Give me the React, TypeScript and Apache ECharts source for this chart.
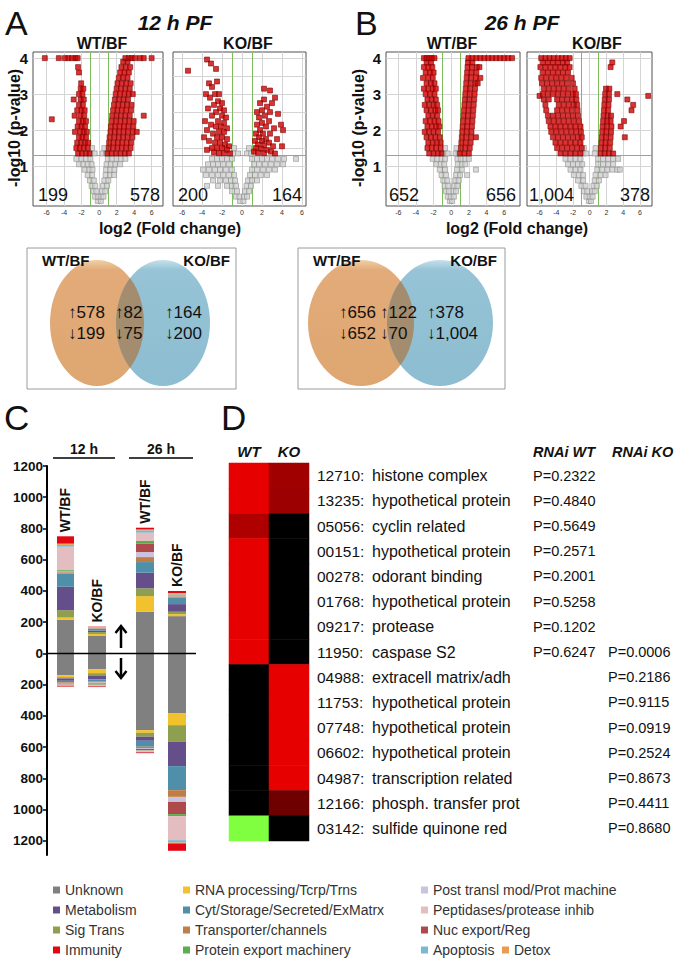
import React, { useEffect, useRef } from 'react';
import * as echarts from 'echarts';

type Row = [number, number[]];

// ===================== Panel A / B : volcano plots =====================
// rows: [ -log10(p), [log2 fold change values ...] ]
const wt12RedRows: Row[] = [
  [1.35, [0.95, 1.45, 1.95, 2.45, 2.95, 3.4]],
  [1.5, [1.1, 1.6, 2.1, 2.6, 3.1, 3.6]],
  [1.65, [1.15, 1.65, 2.15, 2.65, 3.15, 3.65]],
  [1.8, [1.2, 1.75, 2.25, 2.75, 3.25, 3.8]],
  [1.95, [1.3, 1.8, 2.3, 2.8, 3.3, 3.85, 4.3]],
  [2.1, [1.35, 1.85, 2.35, 2.85, 3.35, 3.9]],
  [2.25, [1.45, 1.95, 2.45, 2.95, 3.45, 3.95]],
  [2.4, [1.5, 2.0, 2.5, 3.0, 3.5, 5.1]],
  [2.55, [1.6, 2.1, 2.6, 3.1, 3.65]],
  [2.7, [1.7, 2.2, 2.7, 3.2, 3.7]],
  [2.85, [1.8, 2.3, 2.8, 3.3]],
  [3.0, [1.9, 2.4, 2.9, 3.4, 3.85]],
  [3.15, [2.0, 2.5, 3.0, 3.5]],
  [3.3, [2.1, 2.6, 3.1, 3.6]],
  [3.45, [2.25, 2.75, 3.25]],
  [3.6, [2.4, 2.9, 3.4]],
  [3.75, [2.55, 3.05, 3.55]],
  [3.9, [2.75, 3.25]],
  [4.0, [3.0, 3.4, 3.7, 4.1, 4.7, 5.1, 6.0]],
  [1.35, [-2.4, -1.95, -1.5, -1.1]],
  [1.5, [-2.6, -2.2, -1.75, -1.3]],
  [1.65, [-2.5, -2.05, -1.6, -1.25]],
  [1.8, [-2.3, -1.9, -1.5]],
  [1.95, [-2.75, -2.15, -1.75, -1.4]],
  [2.1, [-2.45, -2.0, -1.6]],
  [2.25, [-2.3, -1.85, -1.5]],
  [2.3, [-5.4]],
  [2.4, [-2.8, -2.15, -1.7]],
  [2.55, [-2.5, -2.0, -1.65]],
  [2.7, [-2.3, -1.85]],
  [2.85, [-2.9, -2.1, -1.75]],
  [3.0, [-2.3, -1.9]],
  [3.15, [-2.1, -1.8]],
  [3.3, [-2.05]],
  [3.6, [-2.3]],
  [3.75, [-2.4]],
  [4.0, [-6.2, -4.6, -3.9, -3.5, -3.1, -2.7, -2.45]],
];
const wt12GrayRows: Row[] = [
  [0.03, [-0.15, 0.2]],
  [0.15, [-0.45, -0.1, 0.25, 0.5]],
  [0.3, [-0.65, -0.3, 0.35, 0.7]],
  [0.45, [-0.85, -0.45, 0.45, 0.9]],
  [0.6, [-1.05, -0.6, 0.6, 1.05]],
  [0.75, [-1.3, -0.8, 0.75, 1.25, 1.7]],
  [0.9, [-1.65, -1.1, -0.75, 0.8, 1.25, 1.75]],
  [1.05, [-2.3, -1.8, -1.3, -0.85, 0.85, 1.35, 1.85, 2.4]],
  [1.2, [-2.6, -2.0, -1.5, -1.0, 1.0, 1.5, 2.0, 2.5, 3.0]],
  [1.35, [-0.95, -0.5, 0.4, 0.8]],
  [1.5, [-0.8, 0.6]],
];
// scattered points as flat [x, y, x, y, ...]
const ko12RedPts: number[] = [
  -5.4, 3.65, -3.5, 3.96, -3.1, 3.85, -2.6, 3.7, -3.3, 3.3, -3.0, 3.2, -2.5, 3.35, -3.6, 3.0,
  -3.2, 2.9, -2.7, 3.0, -2.3, 3.0, -2.4, 2.8, -2.0, 2.75, -2.8, 2.7, -3.4, 2.6, -2.2, 2.6,
  -1.8, 2.55, -2.6, 2.5, -3.0, 2.4, -2.0, 2.4, -1.6, 2.35, -3.7, 2.25, -2.4, 2.25, -1.8, 2.2,
  -3.1, 2.15, -2.6, 2.1, -2.1, 2.1, -1.5, 2.05, -3.5, 2.0, -2.3, 1.95, -1.8, 1.95, -2.9, 1.9,
  -3.8, 1.8, -2.5, 1.8, -2.0, 1.8, -1.5, 1.75, -3.3, 1.7, -2.7, 1.65, -2.2, 1.65, -1.7, 1.6,
  -1.3, 1.55, -3.0, 1.5, -2.5, 1.5, -2.0, 1.5, -1.5, 1.45, -2.8, 1.38, -2.3, 1.36, -1.8, 1.36,
  -1.2, 1.35, -3.5, 1.45,
  2.2, 3.15, 2.8, 3.1, 3.3, 2.9, 3.0, 2.75, 2.2, 2.85, 1.8, 2.75, 2.5, 2.65, 2.0, 2.55,
  1.5, 2.5, 2.8, 2.5, 3.6, 2.45, 2.3, 2.4, 1.7, 2.35, 2.0, 2.2, 2.7, 2.25, 3.9, 2.15,
  1.5, 2.15, 2.4, 2.1, 3.2, 2.05, 1.8, 2.0, 4.1, 2.0, 2.1, 1.9, 2.8, 1.9, 1.4, 1.9,
  1.7, 1.8, 2.4, 1.75, 3.5, 1.75, 2.0, 1.7, 1.3, 1.7, 2.7, 1.65, 1.6, 1.6, 2.2, 1.58,
  3.1, 1.55, 1.4, 1.5, 1.9, 1.48, 2.5, 1.45, 2.9, 1.4, 1.2, 1.4, 1.6, 1.37, 2.2, 1.36,
  3.3, 1.35, 4.0, 1.55,
];
const ko12GrayRows: Row[] = [
  [0.03, [-0.2, 0.15]],
  [0.15, [-0.6, -0.25, 0.2, 0.5]],
  [0.3, [-1.0, -0.5, 0.3, 0.7]],
  [0.45, [-3.5, -2.4, -1.5, -1.0, -0.6, 0.45, 0.9]],
  [0.6, [-2.9, -2.2, -1.6, -1.1, -0.7, 0.6, 1.0, 1.5]],
  [0.75, [-3.6, -3.0, -2.4, -1.9, -1.3, -0.8, 0.8, 1.3, 1.9, 2.5]],
  [0.9, [-3.9, -3.3, -2.7, -2.2, -1.6, -1.0, 1.0, 1.5, 2.1, 2.7, 3.3]],
  [1.05, [-3.4, -2.9, -2.4, -1.9, -1.3, 1.2, 1.7, 2.3, 2.9, 3.5, 4.1]],
  [1.2, [-3.0, -2.5, -2.0, -1.5, -1.0, 1.0, 1.5, 2.0, 2.5, 3.0, 3.6, 4.2, 5.4]],
  [1.35, [-0.9, -0.4, 0.5, 0.9]],
  [1.5, [-0.8, 0.7]],
];
const wt26RedRows: Row[] = [
  [1.35, [-2.5, -2.0, -1.5, -1.1, 1.0, 1.5, 2.0]],
  [1.5, [-2.7, -2.2, -1.7, -1.2, 1.1, 1.6, 2.1]],
  [1.65, [-2.6, -2.1, -1.6, -1.2, 1.15, 1.65, 2.2]],
  [1.8, [-2.8, -2.3, -1.8, -1.3, 1.2, 1.7, 2.25, 2.8]],
  [1.95, [-3.0, -2.5, -2.0, -1.5, 1.25, 1.75, 2.3]],
  [2.1, [-2.7, -2.2, -1.7, -1.35, 1.3, 1.8, 2.35]],
  [2.25, [-2.9, -2.4, -1.9, -1.45, 1.35, 1.85, 2.4]],
  [2.4, [-2.6, -2.1, -1.6, 1.4, 1.9, 2.45]],
  [2.55, [-2.8, -2.3, -1.8, -1.5, 1.45, 1.95, 2.5]],
  [2.7, [-3.0, -2.5, -2.0, -1.6, 1.5, 2.0, 2.55]],
  [2.85, [-2.7, -2.2, -1.75, 1.55, 2.05, 2.6]],
  [3.0, [-2.9, -2.4, -1.9, 1.6, 2.1, 2.65]],
  [3.15, [-3.1, -2.6, -2.1, -1.75, 1.65, 2.15, 2.7]],
  [3.3, [-2.8, -2.3, -1.9, 1.7, 2.2, 2.75, 3.0]],
  [3.45, [-3.2, -2.6, -2.1, 1.75, 2.25, 2.8, 3.3]],
  [3.6, [-2.9, -2.4, -2.0, 1.8, 2.3, 2.85]],
  [3.75, [-3.1, -2.6, -2.15, 1.85, 2.35, 2.9, 3.2]],
  [3.88, [-2.8, -2.3, 1.9, 2.4]],
  [4.0, [-3.1, -2.8, -2.5, -2.2, -1.9, 1.95, 2.4, 2.85, 3.3, 3.75, 4.2, 4.65, 5.1, 5.55, 6.0, 6.45, 6.9]],
];
const wt26GrayRows: Row[] = [
  [0.03, [-0.15, 0.1]],
  [0.15, [-0.4, -0.05, 0.3]],
  [0.3, [-0.6, -0.25, 0.25, 0.55]],
  [0.45, [-0.75, -0.35, 0.35, 0.7]],
  [0.6, [-0.9, -0.45, 0.45, 0.85]],
  [0.75, [-1.1, -0.6, 0.55, 1.0, 1.8]],
  [0.9, [-1.3, -0.7, 0.65, 1.2, 2.8]],
  [1.05, [-1.7, -1.2, -0.8, 0.75, 1.2, 1.6]],
  [1.2, [-2.1, -1.6, -1.1, -0.7, 0.7, 1.1, 1.6, 2.0]],
  [1.35, [-0.8, -0.4, 0.5, 0.85]],
  [1.5, [-0.7, 0.6]],
];
const ko26RedRows: Row[] = [
  [1.35, [-3.5, -2.9, -2.3, -1.7, -1.1, 1.3, 1.8, 2.3, 2.8]],
  [1.5, [-3.9, -3.3, -2.7, -2.1, -1.5, -0.95, 1.35, 1.85, 2.4]],
  [1.65, [-4.1, -3.5, -2.9, -2.3, -1.7, -1.1, 1.4, 1.9, 2.45]],
  [1.8, [-4.4, -3.8, -3.2, -2.6, -2.0, -1.4, -0.95, 1.45, 1.95, 2.5, 4.2]],
  [1.95, [-4.6, -4.0, -3.4, -2.8, -2.2, -1.6, -1.05, 1.5, 2.0, 2.55]],
  [2.1, [-4.7, -4.1, -3.5, -2.9, -2.3, -1.7, -1.1, 1.55, 2.05, 2.6, 3.7]],
  [2.25, [-4.9, -4.3, -3.7, -3.1, -2.5, -1.9, -1.3, 1.6, 2.1, 2.5, 4.1]],
  [2.4, [-5.0, -4.4, -3.8, -3.2, -2.6, -2.0, -1.4, 1.65, 2.15, 2.55]],
  [2.55, [-5.2, -3.9, -3.3, -2.7, -2.1, -1.45, 1.7, 2.2, 5.0]],
  [2.7, [-5.3, -3.7, -3.1, -2.5, -1.9, -1.5, 1.75, 2.25, 5.2]],
  [2.85, [-5.5, -4.9, -3.9, -3.3, -2.7, -2.1, -1.6, 1.8, 2.3, 4.5]],
  [2.95, [-6.0, 7.0]],
  [3.0, [-5.6, -5.0, -4.4, -3.8, -3.2, -2.6, -2.0, -1.65, 1.85, 2.3, 3.3]],
  [3.15, [-5.5, -4.9, -4.3, -3.7, -3.1, -2.5, -1.8, 1.95, 2.35]],
  [3.3, [-5.7, -5.1, -4.5, -3.9, -3.3, -2.7, -2.0]],
  [3.45, [-5.8, -5.2, -4.6, -4.0, -3.4, -2.8, -2.15]],
  [3.6, [-5.6, -5.0, -4.4, -3.8, -3.2, -2.6]],
  [3.75, [-5.9, -5.3, -4.7, -4.1, -3.5, -2.9, -2.4, 2.5]],
  [3.88, [-5.6, -5.0, -4.4, -3.8, -3.2, -2.7, 2.7]],
  [4.0, [-5.8, -5.3, -4.8, -4.3, -3.8, -3.3, -2.85, -2.4]],
];
const ko26GrayRows: Row[] = [
  [0.03, [-0.1, 0.15]],
  [0.15, [-0.4, 0.0, 0.35]],
  [0.3, [-0.7, -0.3, 0.3, 0.6]],
  [0.45, [-1.0, -0.5, 0.45, 0.85]],
  [0.6, [-1.4, -0.8, 0.6, 1.1]],
  [0.75, [-1.9, -1.3, -0.8, 0.7, 1.3, 1.9]],
  [0.9, [-2.3, -1.7, -1.1, 0.9, 1.5, 2.1, 2.7, 3.3, 3.6]],
  [1.05, [-2.6, -2.0, -1.4, -0.9, 1.0, 1.6, 2.2, 2.8]],
  [1.2, [-2.9, -2.3, -1.7, -1.1, 1.0, 1.6, 2.2, 2.8, 3.4]],
  [1.35, [-0.8, -0.4, 0.6]],
  [1.5, [-0.7, 0.7]],
];
const volcanoTitles = ['WT/BF', 'KO/BF', 'WT/BF', 'KO/BF'];
const volcanoCountsDown = [199, 200, 652, 1004];
const volcanoCountsUp = [578, 164, 656, 378];
const xTickValues = [-6, -4, -2, 0, 2, 4, 6];
const yTickValues = [1, 2, 3, 4];

// ===================== Venn diagrams =====================
const vennUp = [[578, 82, 164], [656, 122, 378]];
const vennDown = [[199, 75, 200], [652, 70, 1004]];

// ===================== Panel C : functional categories =====================
const funcCats = [
  'Unknown', 'RNA processing/Tcrp/Trns', 'Sig Trans', 'Metabolism', 'Cyt/Storage/Secreted/ExMatrx',
  'Transporter/channels', 'Post transl mod/Prot machine', 'Nuc export/Reg', 'Protein export machinery',
  'Peptidases/protease inhib', 'Apoptosis', 'Detox', 'Immunity',
];
const funcColors = [
  '#808080', '#F2C12E', '#8E9F4F', '#654F8A', '#4F8FA9', '#C07D45', '#CBC3DD', '#AE4A4C',
  '#5BAE4E', '#E4BDC1', '#7DB7D4', '#E99B4E', '#E30613',
];
const barNames = ['12 h WT/BF', '12 h KO/BF', '26 h WT/BF', '26 h KO/BF'];
const barLabels = ['WT/BF', 'KO/BF', 'WT/BF', 'KO/BF'];
// genes up (positive) per category, one array per bar
const upWT12 = [215, 15, 47, 150, 85, 8, 6, 3, 5, 149, 12, 8, 47];
const upKO12 = [115, 10, 12, 10, 12, 3, 2, 2, 2, 2, 0, 0, 2];
const upWT26 = [267, 100, 50, 100, 68, 32, 32, 53, 18, 53, 15, 6, 11];
const upKO26 = [239, 13, 15, 49, 42, 8, 6, 4, 3, 5, 0, 2, 14];
// genes down per category
const downWT12 = [140, 12, 8, 15, 10, 5, 3, 5, 2, 5, 2, 0, 5];
const downKO12 = [102, 24, 18, 22, 12, 8, 6, 6, 3, 8, 2, 0, 4];
const downWT26 = [491, 17, 25, 26, 38, 8, 6, 8, 3, 8, 3, 0, 5];
const downKO26 = [384, 75, 107, 155, 154, 43, 32, 78, 13, 154, 15, 6, 47];
const barAxisTicks = [-1200, -1000, -800, -600, -400, -200, 0, 200, 400, 600, 800, 1000, 1200];

// ===================== Panel D : heat map =====================
const geneIds = ['12710', '13235', '05056', '00151', '00278', '01768', '09217', '11950', '04988', '11753', '07748', '06602', '04987', '12166', '03142'];
const geneNames = [
  'histone complex', 'hypothetical protein', 'cyclin related', 'hypothetical protein', 'odorant binding',
  'hypothetical protein', 'protease', 'caspase S2', 'extracell matrix/adh', 'hypothetical protein',
  'hypothetical protein', 'hypothetical protein', 'transcription related', 'phosph. transfer prot', 'sulfide quinone red',
];
const heatWT = [1, 1, 0.76, 1, 1, 1, 1, 1, 0, 0, 0, 0, 0, 0, -1];
const heatKO = [0.7, 0.68, 0, 0, 0, 0, 0, 0, 1, 1, 1, 1, 1, 0.48, 0];
const pRnaiWT: (number | null)[] = [0.2322, 0.484, 0.5649, 0.2571, 0.2001, 0.5258, 0.1202, 0.6247, null, null, null, null, null, null, null];
const pRnaiKO: (number | null)[] = [null, null, null, null, null, null, null, 0.0006, 0.2186, 0.9115, 0.0919, 0.2524, 0.8673, 0.4411, 0.868];

// ===================== helpers / layout =====================
const FONT = "'Liberation Sans', Arial, Helvetica, sans-serif";
const NARROW = "'Liberation Sans Narrow', 'Arial Narrow', 'Liberation Sans', Arial, sans-serif";

const rowsToPts = (rows: Row[]) => rows.flatMap(([y, xs]) => xs.map((x) => [x, y]));
const flatToPts = (a: number[]) => {
  const out: number[][] = [];
  for (let i = 0; i < a.length; i += 2) out.push([a[i], a[i + 1]]);
  return out;
};

const volcRed = [rowsToPts(wt12RedRows), flatToPts(ko12RedPts), rowsToPts(wt26RedRows), rowsToPts(ko26RedRows)];
const volcGray = [rowsToPts(wt12GrayRows), rowsToPts(ko12GrayRows), rowsToPts(wt26GrayRows), rowsToPts(ko26GrayRows)];

const volcLayout = [
  { left: 33, width: 130, xMin: -7.55, xMax: 7.3, yLabels: true, hLines: [1, 2, 3, 4], titleX: 102, cL: 38, cR: 160 },
  { left: 173, width: 133, xMin: -6.9, xMax: 6.4, yLabels: false, hLines: [1, 1.5, 2, 2.5, 3, 3.5, 4], titleX: 248, cL: 178, cR: 302 },
  { left: 386, width: 134, xMin: -7.4, xMax: 7.8, yLabels: true, hLines: [1, 2, 3, 4], titleX: 452, cL: 389, cR: 516 },
  { left: 527, width: 125, xMin: -7.5, xMax: 7.45, yLabels: false, hLines: [1, 2, 3, 4], titleX: 597, cL: 529, cR: 650 },
];
const VTOP = 52;
const VH = 154;
const BAR_SLOTS = [0, 2, 5, 7];

function txt(text: string, x: number, y: number, o: any = {}) {
  const align = o.align || 'left';
  const valign = o.valign || 'middle';
  return {
    type: 'text',
    x,
    y,
    rotation: o.rotation || 0,
    silent: true,
    z: 100,
    style: {
      text,
      fill: o.color || '#111',
      fontSize: o.size || 14,
      fontWeight: o.weight || 'normal',
      fontStyle: o.fstyle || 'normal',
      fontFamily: o.family || FONT,
      align,
      verticalAlign: valign,
      textAlign: align,
      textVerticalAlign: valign,
    },
  };
}

let shapesRegistered = false;
function registerShapes() {
  if (shapesRegistered) return;
  shapesRegistered = true;
  echarts.graphic.registerShape(
    'vennLensA',
    echarts.graphic.extendPath('M 0 -44.9 A 47 63 0 0 1 0 44.9 A 47 63 0 0 1 0 -44.9 Z', {})
  );
  echarts.graphic.registerShape(
    'vennLensB',
    echarts.graphic.extendPath('M 0 -42 A 53 63 0 0 1 0 42 A 53 63 0 0 1 0 -42 Z', {})
  );
}

function buildOption() {
  const grids: any[] = [];
  const xAxes: any[] = [];
  const yAxes: any[] = [];
  const series: any[] = [];

  volcLayout.forEach((L, i) => {
    grids.push({ left: L.left, top: VTOP, width: L.width, height: VH, show: true, borderColor: '#505050', borderWidth: 1, backgroundColor: 'transparent' });
    xAxes.push({
      type: 'value', gridIndex: i, min: L.xMin, max: L.xMax,
      axisLine: { show: false }, axisTick: { show: false }, splitLine: { show: false },
      axisLabel: { customValues: xTickValues, fontSize: 7, color: '#333', margin: 3, fontFamily: FONT },
    });
    yAxes.push({
      type: 'value', gridIndex: i, min: -0.11, max: 4.17,
      axisLine: { show: false }, splitLine: { show: false },
      axisTick: { show: true, customValues: yTickValues, length: 3, inside: !L.yLabels, lineStyle: { color: '#333' } },
      axisLabel: { show: L.yLabels, customValues: yTickValues, fontSize: 15, fontWeight: 'bold', color: '#111', margin: 5, fontFamily: FONT },
    });
    const gridLine = { color: '#d4d4d4', width: 1, type: 'solid' };
    const green = { color: '#7dbd5c', width: 1, type: 'solid' };
    series.push({
      type: 'scatter', xAxisIndex: i, yAxisIndex: i, data: volcGray[i], symbol: 'rect', symbolSize: 5,
      itemStyle: { color: '#cfcfcf', borderColor: '#8a8a8a', borderWidth: 0.7 }, silent: true, z: 3,
      markLine: {
        silent: true, symbol: ['none', 'none'], z: 1, animation: false, label: { show: false },
        data: [
          ...xTickValues.map((v) => ({ xAxis: v, lineStyle: gridLine })),
          ...L.hLines.map((v) => ({ yAxis: v, lineStyle: gridLine })),
          { xAxis: -1, lineStyle: green },
          { xAxis: 1, lineStyle: green },
          { yAxis: 1.3, lineStyle: green },
        ],
      },
    });
    series.push({
      type: 'scatter', xAxisIndex: i, yAxisIndex: i, data: volcRed[i], symbol: 'rect', symbolSize: 5,
      itemStyle: { color: '#d00000', borderColor: '#780000', borderWidth: 0.7 }, silent: true, z: 4,
    });
  });

  // Panel C grid (index 4)
  grids.push({ left: 57, top: 466, width: 144, height: 389 });
  xAxes.push({
    type: 'category', gridIndex: 4, data: ['WT12', 's1', 'KO12', 's2', 's3', 'WT26', 's4', 'KO26', 's5'],
    show: false,
  });
  yAxes.push({
    type: 'value', gridIndex: 4, min: -1290, max: 1200, offset: 10,
    axisLine: { show: true, lineStyle: { color: '#000', width: 2 } },
    axisTick: { show: true, customValues: barAxisTicks, length: 4, lineStyle: { color: '#000', width: 1.5 } },
    axisLabel: {
      customValues: barAxisTicks, formatter: (v: number) => String(Math.abs(v)),
      fontSize: 13.5, fontWeight: 'bold', color: '#111', margin: 4, fontFamily: FONT,
    },
    splitLine: { show: false },
  });
  const ups = [upWT12, upKO12, upWT26, upKO26];
  const downs = [downWT12, downKO12, downWT26, downKO26];
  funcCats.forEach((cat, c) => {
    const upData: (number | null)[] = new Array(9).fill(null);
    const downData: (number | null)[] = new Array(9).fill(null);
    BAR_SLOTS.forEach((s, b) => {
      upData[s] = ups[b][c] || null;
      downData[s] = downs[b][c] ? -downs[b][c] : null;
    });
    const common = {
      type: 'bar', name: cat, xAxisIndex: 4, yAxisIndex: 4, stack: 'genes', barWidth: 18,
      itemStyle: { color: funcColors[c] }, silent: true,
    };
    series.push({ ...common, data: upData });
    series.push({ ...common, data: downData });
  });

  // Panel D grid (index 5)
  grids.push({ left: 229, top: 463, width: 80, height: 378 });
  xAxes.push({
    type: 'category', gridIndex: 5, data: ['WT', 'KO'], position: 'top',
    axisLine: { show: false }, axisTick: { show: false },
    axisLabel: { fontSize: 15, fontWeight: 'bold', fontStyle: 'italic', color: '#111', margin: 4, fontFamily: FONT },
  });
  yAxes.push({
    type: 'category', gridIndex: 5, data: geneIds, inverse: true, position: 'right',
    axisLine: { show: false }, axisTick: { show: false },
    axisLabel: {
      interval: 0, margin: 8, color: '#111', fontFamily: FONT,
      formatter: (_v: string, idx: number) => {
        const w = pRnaiWT[idx] != null ? 'P=' + (pRnaiWT[idx] as number).toFixed(4) : '\u00a0';
        const k = pRnaiKO[idx] != null ? 'P=' + (pRnaiKO[idx] as number).toFixed(4) : '\u00a0';
        return `{id|${geneIds[idx]}:}{d|${geneNames[idx]}}{w|${w}}{k|${k}}`;
      },
      rich: {
        id: { width: 55, fontSize: 15.5, color: '#111', fontFamily: FONT },
        d: { width: 161, fontSize: 16, color: '#111', fontFamily: FONT },
        w: { width: 75, fontSize: 14.5, color: '#111', fontFamily: FONT },
        k: { fontSize: 14.5, color: '#111', fontFamily: FONT },
      },
    },
  });
  const heatData: number[][] = [];
  geneIds.forEach((_g, r) => {
    heatData.push([0, r, heatWT[r]]);
    heatData.push([1, r, heatKO[r]]);
  });
  const heatIndex = series.length;
  series.push({
    type: 'heatmap', xAxisIndex: 5, yAxisIndex: 5, data: heatData, silent: true,
    itemStyle: { borderWidth: 0 }, emphasis: { disabled: true },
  });

  const legendBase = {
    orient: 'vertical', itemWidth: 7, itemHeight: 7, itemGap: 4, icon: 'rect', selectedMode: false, padding: 0,
    textStyle: { fontSize: 14, color: '#333', lineHeight: 16, fontFamily: FONT },
  };

  return {
    animation: false,
    backgroundColor: '#ffffff',
    textStyle: { fontFamily: FONT },
    grid: grids,
    xAxis: xAxes,
    yAxis: yAxes,
    series,
    visualMap: [{
      type: 'continuous', show: false, seriesIndex: heatIndex, dimension: 2, min: -1, max: 1,
      inRange: { color: ['#80ff40', '#000000', '#e60000'] },
    }],
    legend: [
      { ...legendBase, left: 53, top: 882, data: [funcCats[0], funcCats[3], funcCats[2], funcCats[12]] },
      { ...legendBase, left: 183, top: 882, data: [funcCats[1], funcCats[4], funcCats[5], funcCats[8]] },
      { ...legendBase, left: 421, top: 882, data: [funcCats[6], funcCats[9], funcCats[7], funcCats[10]] },
      { ...legendBase, left: 502, top: 942, data: [funcCats[11]] },
    ],
  };
}

function staticGraphics() {
  const g: any[] = [];
  // panel letters
  g.push(txt('A', 5, 6, { size: 34, valign: 'top' }));
  g.push(txt('B', 355, 6, { size: 34, valign: 'top' }));
  g.push(txt('C', 4, 400, { size: 35, valign: 'top' }));
  g.push(txt('D', 221, 400, { size: 35, valign: 'top' }));
  // volcano titles
  g.push(txt('12 h PF', 175, 22, { size: 21, weight: 'bold', fstyle: 'italic', align: 'center' }));
  g.push(txt('26 h PF', 522, 22, { size: 21, weight: 'bold', fstyle: 'italic', align: 'center' }));
  volcLayout.forEach((L, i) => {
    g.push(txt(volcanoTitles[i], L.titleX, 43, { size: 16, weight: 'bold', align: 'center' }));
    g.push(txt(volcanoCountsDown[i].toLocaleString('en-US'), L.cL, 195, { size: 18, family: NARROW }));
    g.push(txt(volcanoCountsUp[i].toLocaleString('en-US'), L.cR, 195, { size: 18, family: NARROW, align: 'right' }));
  });
  g.push(txt('-log10 (p-value)', 14, 128, { size: 16, weight: 'bold', align: 'center', rotation: Math.PI / 2 }));
  g.push(txt('-log10 (p-value)', 358, 128, { size: 16, weight: 'bold', align: 'center', rotation: Math.PI / 2 }));
  g.push(txt('log2 (Fold change)', 170, 228, { size: 16, weight: 'bold', align: 'center' }));
  g.push(txt('log2 (Fold change)', 517, 228, { size: 16, weight: 'bold', align: 'center' }));

  // Venn diagrams
  const venn = [
    { bx: 27, bw: 209, oc: 97, bc: 163, rx: 47, lens: 'vennLensA', lx: 130, wtX: 42, koX: 230, cols: [68, 115, 165] },
    { bx: 298, bw: 207, oc: 361, bc: 440, rx: 53, lens: 'vennLensB', lx: 400.5, wtX: 313, koX: 497, cols: [339, 380, 427] },
  ];
  venn.forEach((v, k) => {
    g.push({ type: 'rect', shape: { x: v.bx, y: 248, width: v.bw, height: 141 }, style: { fill: '#fff', stroke: '#9a9a9a', lineWidth: 1 }, silent: true, z: 10 });
    g.push({
      type: 'ellipse', shape: { cx: v.oc, cy: 323, rx: v.rx, ry: 63 }, silent: true, z: 11,
      style: { fill: { type: 'linear', x: 0, y: 0, x2: 0, y2: 1, colorStops: [{ offset: 0, color: '#f0cfa6' }, { offset: 0.08, color: '#e2ab79' }, { offset: 1, color: '#dea670' }] } },
    });
    g.push({
      type: 'ellipse', shape: { cx: v.bc, cy: 323, rx: v.rx, ry: 63 }, silent: true, z: 12,
      style: { fill: { type: 'linear', x: 0, y: 0, x2: 0, y2: 1, colorStops: [{ offset: 0, color: '#c5e0ec' }, { offset: 0.08, color: '#96c3d6' }, { offset: 1, color: '#8dbdd1' }] } },
    });
    g.push({ type: v.lens, x: v.lx, y: 323, silent: true, z: 13, style: { fill: '#a48d6f' } });
    const t1 = txt('WT/BF', v.wtX, 260, { size: 15, weight: 'bold' });
    const t2 = txt('KO/BF', v.koX, 260, { size: 15, weight: 'bold', align: 'right' });
    t1.z = 120; t2.z = 120;
    g.push(t1, t2);
    v.cols.forEach((x, j) => {
      g.push(txt('\u2191' + vennUp[k][j].toLocaleString('en-US'), x, 312, { size: 17, family: NARROW }));
      g.push(txt('\u2193' + vennDown[k][j].toLocaleString('en-US'), x, 333, { size: 17, family: NARROW }));
    });
  });

  // Panel C headers
  g.push(txt('12 h', 84, 449, { size: 14, weight: 'bold', align: 'center' }));
  g.push(txt('26 h', 161, 449, { size: 14, weight: 'bold', align: 'center' }));
  g.push({ type: 'line', shape: { x1: 53, y1: 458, x2: 115, y2: 458 }, style: { stroke: '#000', lineWidth: 1.5 }, silent: true });
  g.push({ type: 'line', shape: { x1: 129, y1: 458, x2: 193, y2: 458 }, style: { stroke: '#000', lineWidth: 1.5 }, silent: true });
  // up/down arrows
  const arrow = { stroke: '#000', lineWidth: 2.5, fill: 'none' };
  g.push({ type: 'line', shape: { x1: 121, y1: 648, x2: 121, y2: 627 }, style: arrow, silent: true });
  g.push({ type: 'polyline', shape: { points: [[115.5, 633], [121, 626], [126.5, 633]] }, style: arrow, silent: true });
  g.push({ type: 'line', shape: { x1: 121, y1: 658, x2: 121, y2: 677 }, style: arrow, silent: true });
  g.push({ type: 'polyline', shape: { points: [[115.5, 671], [121, 678], [126.5, 671]] }, style: arrow, silent: true });

  // Panel D headers
  g.push(txt('RNAi WT', 533, 452, { size: 14.5, weight: 'bold', fstyle: 'italic' }));
  g.push(txt('RNAi KO', 612, 452, { size: 14.5, weight: 'bold', fstyle: 'italic' }));
  return g;
}

export default function App() {
  const ref = useRef<HTMLDivElement>(null);
  useEffect(() => {
    if (!ref.current) return;
    registerShapes();
    const chart = echarts.init(ref.current, null, { renderer: 'svg', width: 677, height: 962 });
    const option: any = buildOption();
    chart.setOption(option);
    const extra: any[] = [];
    const y0 = chart.convertToPixel({ gridIndex: 4 } as any, [0, 0]) as number[];
    extra.push({ type: 'line', shape: { x1: 47, y1: y0[1], x2: 196, y2: y0[1] }, style: { stroke: '#000', lineWidth: 1.6 }, silent: true, z: 50 });
    const ups = [upWT12, upKO12, upWT26, upKO26];
    BAR_SLOTS.forEach((s, b) => {
      const total = ups[b].reduce((a, v) => a + v, 0);
      const p = chart.convertToPixel({ gridIndex: 4 } as any, [s, total]) as number[];
      extra.push(txt(barLabels[b], p[0], p[1] - 4, { size: 14, weight: 'bold', rotation: Math.PI / 2 }));
    });
    chart.setOption({ ...option, graphic: { elements: [...staticGraphics(), ...extra] } }, true);
    return () => chart.dispose();
  }, []);
  return <div ref={ref} style={{ position: 'absolute', left: 0, top: 0, width: 677, height: 962, background: '#fff' }} />;
}
